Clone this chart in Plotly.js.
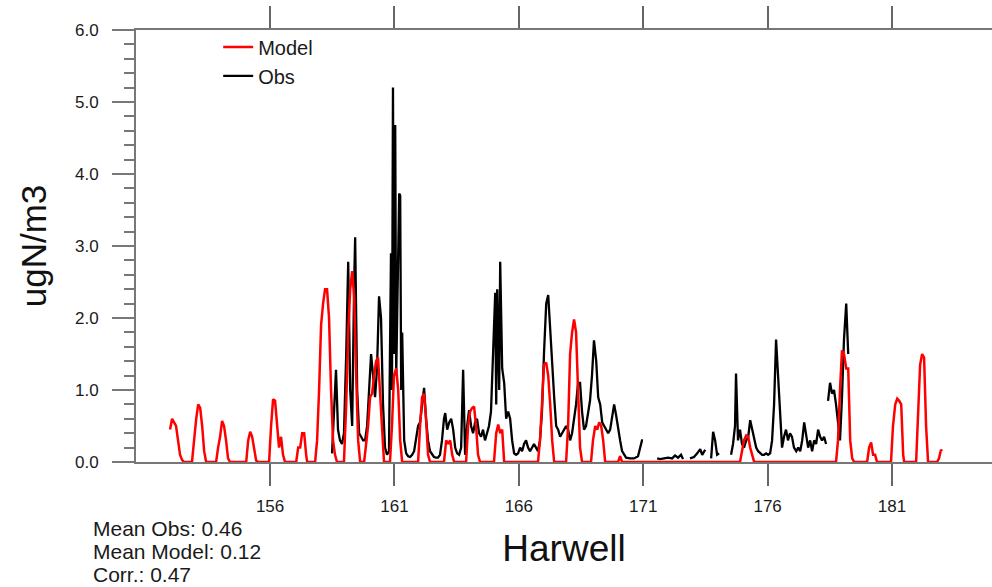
<!DOCTYPE html>
<html>
<head>
<meta charset="utf-8">
<script src="https://cdn.plot.ly/plotly-3.0.1.min.js"></script>
<style>html,body{margin:0;padding:0;background:#fff;overflow:hidden;}#chart{width:992px;height:587px;}</style>
</head>
<body>
<div id="chart"></div>
<script>
// Day of year (fractional) and concentrations (ugN/m3)
const modelDay = [151.98,152.06,152.14,152.22,152.30,152.38,152.46,152.54,
  152.86,152.94,153.03,153.11,153.19,153.27,153.35,153.43,
  153.83,153.91,153.99,154.07,154.15,154.23,154.31,154.39,
  155.04,155.12,155.20,155.28,155.36,155.44,155.52,
  155.96,156.04,156.12,156.20,156.28,156.36,156.44,156.52,156.60,
  157.05,157.13,157.21,157.29,157.37,157.45,157.49,
  157.81,157.89,157.97,158.05,158.13,158.21,158.29,158.37,158.45,158.53,158.61,158.69,
  158.97,159.06,159.14,159.22,159.30,159.38,159.46,159.54,159.62,
  159.78,159.86,159.94,160.02,160.10,160.18,160.26,160.34,160.42,160.50,160.58,
  160.82,160.90,160.98,161.07,161.15,161.23,161.31,
  161.95,162.03,162.11,162.19,162.27,162.35,162.43,
  162.99,163.08,163.16,163.24,163.32,163.40,
  163.88,163.96,164.04,164.12,164.20,164.28,164.36,164.44,
  165.00,165.09,165.17,165.25,165.33,165.41,
  166.77,166.85,166.93,167.01,167.10,167.18,167.26,167.34,167.42,
  167.90,167.98,168.06,168.14,168.22,168.30,168.38,168.46,168.54,
  168.90,168.98,169.07,169.15,169.23,169.31,169.39,169.47,
  169.99,170.07,170.15,
  174.89,174.97,175.05,175.14,175.22,175.30,175.38,175.46,
  178.75,178.83,178.91,178.99,179.07,179.16,179.24,179.32,179.40,179.48,
  180.00,180.08,180.16,180.24,180.32,180.40,
  180.96,181.04,181.13,181.21,181.29,181.37,181.45,181.49,
  181.97,182.05,182.13,182.21,182.29,182.37,182.45,
  182.81,182.89,182.97,183.01];
const modelVal = [0.45,0.6,0.55,0.5,0.3,0.1,0.03,0,
  0,0.3,0.6,0.8,0.75,0.5,0.15,0,
  0,0.2,0.35,0.57,0.5,0.3,0.05,0,
  0,0.3,0.42,0.35,0.2,0.02,0,
  0,0.5,0.87,0.85,0.5,0.2,0.35,0.1,0,
  0,0.2,0.2,0.4,0.4,0.1,0,
  0,0.3,1.0,1.9,2.2,2.4,2.4,2.0,1.0,0.3,0.1,0,
  0,0.8,1.8,2.4,2.65,2.3,1.2,0.3,0,
  0,0.25,0.5,0.9,0.95,1.2,1.4,1.45,1.0,0.4,0,
  0,0.5,1.2,1.3,1.0,0.3,0,
  0,0.5,0.9,0.95,0.6,0.1,0,
  0,0.3,0.25,0.3,0.1,0,
  0,0.5,0.7,0.75,0.77,0.5,0.1,0,
  0,0.4,0.52,0.4,0.45,0,
  0,0.3,0.8,1.35,1.38,1.2,0.8,0.3,0,
  0,0.5,1.5,1.8,1.98,1.8,1.0,0.2,0,
  0,0.3,0.5,0.45,0.55,0.5,0.3,0,
  0,0.08,0,
  0,0.15,0.3,0.37,0.35,0.2,0.1,0,
  0,0.3,1.0,1.55,1.5,1.3,1.3,0.3,0.05,0,
  0,0.2,0.27,0.1,0.1,0,
  0,0.5,0.8,0.88,0.85,0.8,0.1,0,
  0,0.6,1.35,1.5,1.45,0.5,0,
  0,0.05,0.17,0.15];

const obsDay = [158.49,158.57,158.65,158.73,158.81,158.89,158.97,159.06,159.14,159.22,159.30,159.38,159.42,159.50,159.58,159.66,159.74,159.82,159.90,159.98,
  160.06,160.14,160.22,160.30,160.38,160.46,160.54,160.62,160.70,160.78,160.86,160.90,160.94,160.98,161.03,161.07,161.11,161.19,161.23,161.27,161.31,161.39,161.47,161.55,161.63,161.71,161.79,161.87,161.95,
  162.03,162.11,162.19,162.27,162.35,162.43,162.51,162.59,162.67,162.75,162.83,162.91,162.99,163.04,163.12,163.20,163.28,163.36,163.44,163.52,163.60,163.68,163.76,163.84,163.92,
  164.00,164.08,164.16,164.24,164.32,164.40,164.48,164.56,164.64,164.72,164.80,164.88,164.96,165.05,165.09,165.13,165.21,165.25,165.33,165.41,165.49,165.57,165.65,165.73,165.81,165.89,165.97,
  166.05,166.13,166.21,166.29,166.37,166.45,166.53,166.61,166.69,166.77,166.85,166.93,167.01,167.10,167.18,167.26,167.34,167.42,167.50,167.58,167.66,167.74,167.82,167.90,167.98,
  168.06,168.14,168.22,168.30,168.38,168.46,168.54,168.62,168.70,168.78,168.86,168.94,169.02,169.11,169.19,169.27,169.35,169.43,169.51,169.59,169.67,169.75,169.83,169.91,169.99,
  170.07,170.15,170.23,170.31,170.47,170.63,170.79,170.87,170.95,170.99,
  null,
  171.56,171.68,171.84,172.00,172.16,172.28,172.40,172.52,172.60,
  null,
  172.88,173.04,173.17,173.29,173.37,173.49,
  null,
  173.73,173.81,173.89,173.97,174.05,
  null,
  174.53,174.61,174.69,174.73,174.81,174.89,174.97,175.05,175.14,175.22,175.30,175.38,175.46,175.54,175.62,175.70,175.78,175.86,175.94,
  176.02,176.10,176.18,176.26,176.34,176.42,176.50,176.58,176.66,176.74,176.82,176.90,176.98,177.06,177.15,177.23,177.31,177.39,177.47,177.55,177.63,177.71,177.79,177.87,177.95,
  178.03,178.11,178.19,178.27,178.35,
  null,
  178.43,178.51,178.59,178.67,178.75,178.83,178.91,178.99,179.07,179.16,179.24];
const obsVal = [0.12,0.8,1.28,0.45,0.3,0.25,0.4,1.5,2.78,1.0,0.5,2.5,3.12,1.0,0.4,0.35,0.3,0.3,0.5,1.0,
  1.5,1.2,0.9,1.3,2.3,2.0,0.8,0.2,0.1,0.15,2.9,1.0,5.2,1.5,4.68,1.2,2.0,3.73,3.7,1.0,1.8,0.3,0.12,0.08,0.07,0.1,0.15,0.3,0.5,
  0.55,0.8,1.03,0.6,0.3,0.15,0.1,0.07,0.06,0.06,0.1,0.3,0.6,0.68,0.45,0.55,0.6,0.45,0.2,0.12,0.1,0.2,1.28,0.1,0.5,
  0.72,0.5,0.4,0.55,0.6,0.4,0.35,0.45,0.3,0.4,0.5,0.7,1.4,2.35,0.8,2.4,1.0,2.78,1.3,1.1,0.6,0.7,0.6,0.3,0.12,0.1,0.12,
  0.2,0.15,0.25,0.3,0.2,0.15,0.2,0.25,0.2,0.15,0.3,0.7,1.5,2.2,2.32,1.8,1.4,0.9,0.5,0.45,0.35,0.4,0.45,0.5,0.45,
  0.3,0.4,0.6,0.8,1.1,1.1,0.7,0.45,0.5,0.7,0.85,1.2,1.69,1.4,0.9,0.8,0.55,0.5,0.45,0.4,0.45,0.6,0.8,0.65,0.45,
  0.3,0.15,0.1,0.06,0.05,0.05,0.08,0.2,0.3,0.3,
  null,
  0.05,0.04,0.05,0.06,0.05,0.09,0.06,0.1,0.04,
  null,
  0.05,0.07,0.12,0.18,0.1,0.17,
  null,
  0.05,0.42,0.3,0.1,0.12,
  null,
  0.1,0.25,0.5,1.23,0.3,0.45,0.25,0.2,0.3,0.35,0.58,0.45,0.3,0.2,0.15,0.12,0.1,0.1,0.12,
  0.1,0.12,0.3,0.8,1.7,1.2,0.6,0.2,0.35,0.45,0.3,0.4,0.35,0.2,0.15,0.2,0.15,0.3,0.55,0.35,0.2,0.3,0.15,0.3,0.25,
  0.45,0.35,0.3,0.35,0.25,
  null,
  0.85,1.1,0.95,1.0,0.8,0.5,0.3,0.9,1.7,2.2,1.5];

const xTickVals = [156,161,166,171,176,181];
const xTickText = ["156","161","166","171","176","181"];
const yTickVals = [0,1,2,3,4,5,6];
const yTickText = ["0.0","1.0","2.0","3.0","4.0","5.0","6.0"];
const statLines = ["Mean Obs: 0.46","Mean Model: 0.12","Corr.: 0.47"];

const FONT = "Liberation Sans, Arial, Helvetica, sans-serif";

const traces = [
  {x: obsDay, y: obsVal, name: "Obs", type: "scatter", mode: "lines",
   line: {color: "#000000", width: 2.3}, connectgaps: false},
  {x: modelDay, y: modelVal, name: "Model", type: "scatter", mode: "lines",
   line: {color: "#ff0000", width: 2.5}}
];

const annotations = statLines.map((t, i) => ({
  text: t, xref: "paper", yref: "paper", x: -0.053, y: -0.153 - i * 0.0535,
  xanchor: "left", yanchor: "middle", showarrow: false,
  font: {family: FONT, size: 21, color: "#1a1a1a"}
}));

const layout = {
  width: 992, height: 587,
  margin: {l: 136, r: 0, t: 30, b: 125, autoexpand: false},
  paper_bgcolor: "#ffffff", plot_bgcolor: "#ffffff",
  font: {family: FONT, color: "#1a1a1a"},
  showlegend: true,
  legend: {x: 0.096, y: 1.006, xanchor: "left", yanchor: "top",
    traceorder: "reversed", bgcolor: "rgba(0,0,0,0)",
    font: {family: FONT, size: 20, color: "#1a1a1a"}, tracegroupgap: 0, itemwidth: 30},
  xaxis: {
    range: [150.61, 185.02], showgrid: false, zeroline: false, automargin: false,
    showline: true, linecolor: "#777777", linewidth: 2, mirror: "ticks",
    ticks: "outside", ticklen: 22, tickwidth: 2, tickcolor: "#666666",
    tickvals: xTickVals, ticktext: xTickText, ticklabelstandoff: 6,
    tickfont: {family: FONT, size: 17, color: "#1a1a1a"},
    title: {text: "Harwell", font: {family: FONT, size: 37, color: "#111111"}, standoff: 20}
  },
  yaxis: {
    range: [0, 6], showgrid: false, zeroline: false, automargin: false,
    showline: true, linecolor: "#777777", linewidth: 2, mirror: false,
    ticks: "outside", ticklen: 22, tickwidth: 2, tickcolor: "#777777",
    tickvals: yTickVals, ticktext: yTickText, ticklabelstandoff: 10,
    minor: {dtick: 0.2, ticks: "outside", ticklen: 10, tickwidth: 2, tickcolor: "#777777"},
    tickfont: {family: FONT, size: 17, color: "#1a1a1a"},
    title: {text: "ugN/m3", font: {family: FONT, size: 35, color: "#111111"}, standoff: 18}
  },
  annotations: annotations
};

Plotly.newPlot("chart", traces, layout, {displayModeBar: false, staticPlot: true});
</script>
</body>
</html>
